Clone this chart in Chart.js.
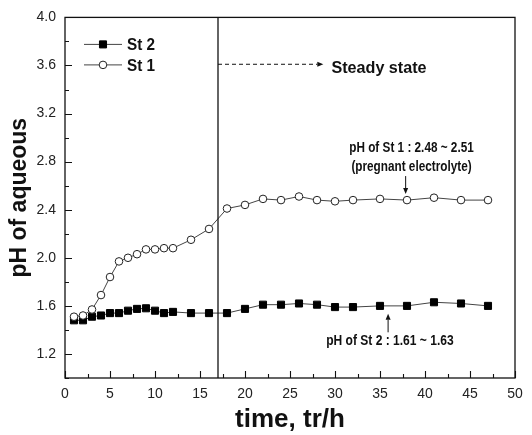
<!DOCTYPE html>
<html>
<head>
<meta charset="utf-8">
<script src="https://cdn.jsdelivr.net/npm/chart.js@4.4.1/dist/chart.umd.min.js"></script>
<style>
  body { margin: 0; background: #fff; }
  #wrap { width: 532px; height: 435px; }
</style>
</head>
<body>
<div id="wrap"><canvas id="phChart" width="532" height="435"></canvas></div>
<script>
// sampling times (h)
const hours = [1, 2, 3, 4, 5, 6, 7, 8, 9, 10, 11, 12, 14, 16, 18, 20, 22, 24, 26, 28, 30, 32, 35, 38, 41, 44, 47];
// pH of the two stages
const st1 = [1.51, 1.52, 1.57, 1.69, 1.84, 1.97, 2.00, 2.03, 2.07, 2.07, 2.08, 2.08, 2.15, 2.24, 2.41, 2.44, 2.49, 2.48, 2.51, 2.48, 2.47, 2.48, 2.49, 2.48, 2.50, 2.48, 2.48];
const st2 = [1.48, 1.48, 1.51, 1.52, 1.54, 1.54, 1.56, 1.575, 1.58, 1.56, 1.54, 1.55, 1.54, 1.54, 1.54, 1.575, 1.61, 1.61, 1.62, 1.61, 1.59, 1.59, 1.60, 1.60, 1.63, 1.62, 1.60];

// axis settings
const xRange = [0, 50];
const yRange = [1.0, 4.0];
const xStep = 2.5;
const yStep = 0.2;

// annotations (data coordinates)
const steadyStart = 17;
const steadyArrow = { y: 3.61, xEnd: 28.7, label: 'Steady state', labelX: 29.6 };
const st1Note = { lines: ['pH of St 1 : 2.48 ~ 2.51', '(pregnant electrolyte)'], x: 38.5, y: [2.91, 2.755], arrowX: 37.85, from: 2.68, to: 2.53 };
const st2Note = { text: 'pH of St 2 : 1.61 ~ 1.63', x: 36.1, y: 1.31, arrowX: 35.9, from: 1.38, to: 1.535 };

const FONT = "'Liberation Sans', Arial, Helvetica, sans-serif";

const isMajorX = v => Math.abs(v % 5) < 1e-6;
const isMajorY = v => {
  const k = Math.round(v * 10);
  return k >= 12 && k % 4 === 0;
};

function drawText(ctx, str, x, y, size, bold, align, squeeze) {
  ctx.font = (bold ? 'bold ' : '') + size + 'px ' + FONT;
  ctx.textAlign = align;
  ctx.textBaseline = 'middle';
  const w = ctx.measureText(str).width;
  ctx.fillText(str, x, y, w * (squeeze || 1));
}

function arrow(ctx, x1, y1, x2, y2, dashed) {
  const ang = Math.atan2(y2 - y1, x2 - x1);
  const head = 6, half = 2.5;
  ctx.save();
  if (dashed) ctx.setLineDash([4, 3]);
  ctx.beginPath();
  ctx.moveTo(x1, y1);
  ctx.lineTo(x2 - head * Math.cos(ang), y2 - head * Math.sin(ang));
  ctx.stroke();
  ctx.restore();
  ctx.beginPath();
  ctx.moveTo(x2, y2);
  ctx.lineTo(x2 - head * Math.cos(ang) + half * Math.sin(ang), y2 - head * Math.sin(ang) - half * Math.cos(ang));
  ctx.lineTo(x2 - head * Math.cos(ang) - half * Math.sin(ang), y2 - head * Math.sin(ang) + half * Math.cos(ang));
  ctx.closePath();
  ctx.fill();
}

const decorations = {
  id: 'decorations',
  afterDraw(chart) {
    const { ctx, chartArea: a, scales: { x, y } } = chart;
    ctx.save();
    ctx.strokeStyle = '#111';
    ctx.fillStyle = '#111';

    // frame
    ctx.lineWidth = 1.3;
    ctx.strokeRect(a.left, a.top, a.right - a.left, a.bottom - a.top);

    // inward ticks
    ctx.lineWidth = 1.1;
    ctx.beginPath();
    x.ticks.forEach(t => {
      const px = Math.round(x.getPixelForValue(t.value)) + 0.5;
      ctx.moveTo(px, a.bottom);
      ctx.lineTo(px, a.bottom - (isMajorX(t.value) ? 7 : 4));
    });
    y.ticks.forEach(t => {
      const py = Math.round(y.getPixelForValue(t.value)) + 0.5;
      ctx.moveTo(a.left, py);
      ctx.lineTo(a.left + (isMajorY(t.value) ? 7 : 4), py);
    });
    ctx.stroke();

    // steady state boundary
    ctx.lineWidth = 1.3;
    const sx = x.getPixelForValue(steadyStart);
    ctx.beginPath();
    ctx.moveTo(sx, a.top);
    ctx.lineTo(sx, a.bottom);
    ctx.stroke();

    ctx.lineWidth = 1;
    const ay = y.getPixelForValue(steadyArrow.y);
    arrow(ctx, sx, ay, x.getPixelForValue(steadyArrow.xEnd), ay, true);
    drawText(ctx, steadyArrow.label, x.getPixelForValue(steadyArrow.labelX), ay + 4, 17, true, 'left', 0.95);

    // St 1 note
    st1Note.lines.forEach((ln, i) => {
      drawText(ctx, ln, x.getPixelForValue(st1Note.x), y.getPixelForValue(st1Note.y[i]), 14, true, 'center', 0.84);
    });
    const a1 = x.getPixelForValue(st1Note.arrowX);
    arrow(ctx, a1, y.getPixelForValue(st1Note.from), a1, y.getPixelForValue(st1Note.to), false);

    // St 2 note
    drawText(ctx, st2Note.text, x.getPixelForValue(st2Note.x), y.getPixelForValue(st2Note.y), 14, true, 'center', 0.86);
    const a2 = x.getPixelForValue(st2Note.arrowX);
    arrow(ctx, a2, y.getPixelForValue(st2Note.from), a2, y.getPixelForValue(st2Note.to), false);

    // legend: St 2 first, then St 1
    const order = [1, 0];
    order.forEach((di, row) => {
      const ds = chart.data.datasets[di];
      const ly = a.top + 27 + row * 20.5;
      const lx0 = a.left + 19, lx1 = a.left + 57, mx = (lx0 + lx1) / 2;
      ctx.strokeStyle = ds.borderColor;
      ctx.lineWidth = 1;
      ctx.beginPath();
      ctx.moveTo(lx0, ly);
      ctx.lineTo(lx1, ly);
      ctx.stroke();
      ctx.fillStyle = ds.pointBackgroundColor;
      ctx.strokeStyle = ds.pointBorderColor;
      ctx.lineWidth = ds.pointBorderWidth;
      ctx.beginPath();
      if (ds.pointStyle === 'rect') {
        const s = ds.pointRadius * Math.SQRT1_2;
        ctx.rect(mx - s, ly - s, 2 * s, 2 * s);
      } else {
        ctx.arc(mx, ly, ds.pointRadius, 0, Math.PI * 2);
      }
      ctx.fill();
      ctx.stroke();
      ctx.fillStyle = '#111';
      drawText(ctx, ds.label, lx1 + 5, ly + 1, 17, true, 'left', 0.9);
    });
    ctx.restore();
  }
};

new Chart(document.getElementById('phChart'), {
  type: 'line',
  data: {
    labels: hours,
    datasets: [
      {
        label: 'St 1',
        data: hours.map((h, i) => ({ x: h, y: st1[i] })),
        borderColor: '#444',
        borderWidth: 1,
        pointStyle: 'circle',
        pointRadius: 3.8,
        pointBorderWidth: 1,
        pointBackgroundColor: '#fff',
        pointBorderColor: '#222',
        tension: 0
      },
      {
        label: 'St 2',
        data: hours.map((h, i) => ({ x: h, y: st2[i] })),
        borderColor: '#444',
        borderWidth: 1,
        pointStyle: 'rect',
        pointRadius: 5,
        pointBorderWidth: 1,
        pointBackgroundColor: '#000',
        pointBorderColor: '#000',
        tension: 0
      }
    ]
  },
  options: {
    responsive: false,
    animation: false,
    devicePixelRatio: 1,
    layout: { padding: { left: 0, top: 15, right: 17, bottom: 0 } },
    plugins: {
      legend: { display: false },
      tooltip: { enabled: false }
    },
    scales: {
      x: {
        type: 'linear',
        min: xRange[0],
        max: xRange[1],
        grid: { display: false, drawTicks: false },
        border: { display: false },
        afterFit: s => { s.height = 57; },
        ticks: {
          stepSize: xStep,
          autoSkip: false,
          maxRotation: 0,
          padding: 8,
          color: '#222',
          font: { family: FONT, size: 14 },
          callback: v => isMajorX(v) ? String(v) : ''
        },
        title: {
          display: true,
          text: 'time, tr/h',
          color: '#111',
          font: { family: FONT, size: 26, weight: 'bold' },
          padding: { top: 0, bottom: 0 }
        }
      },
      y: {
        type: 'linear',
        min: yRange[0],
        max: yRange[1],
        grid: { display: false, drawTicks: false },
        border: { display: false },
        afterFit: s => { s.width = 65; },
        ticks: {
          stepSize: yStep,
          autoSkip: false,
          padding: 9,
          color: '#222',
          font: { family: FONT, size: 14 },
          callback: v => isMajorY(v) ? v.toFixed(1) : ''
        },
        title: {
          display: true,
          text: 'pH of aqueous',
          color: '#111',
          font: { family: FONT, size: 23, weight: 'bold' },
          padding: { top: 6, bottom: 0 }
        }
      }
    }
  },
  plugins: [decorations]
});
</script>
</body>
</html>
